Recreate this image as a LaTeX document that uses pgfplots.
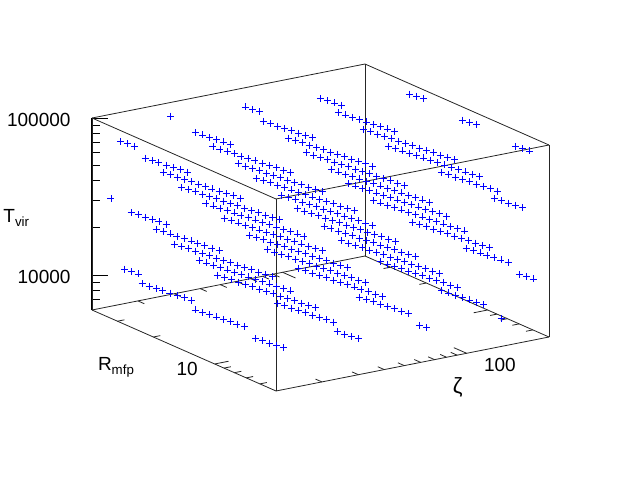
\documentclass[border=0pt]{standalone}
\usepackage{fontspec}
\setmainfont{Liberation Sans}
\usepackage{pgfplots}
\pgfplotsset{compat=1.18}
\begin{document}
\begin{tikzpicture}[x=1pt,y=1pt]
\path[use as bounding box] (0,0) rectangle (640,480);
\fontsize{19}{22}\selectfont
% the vertical axis, horizontal ticks
\begin{axis}[
  at={(92pt,170pt)}, anchor=south west, scale only axis,
  width=100pt, height=192pt,
  ymode=log, xmin=0, xmax=1, ymin=6000, ymax=100000,
  hide x axis, axis y line*=left, axis line style={-,line width=1pt},
  ytick={10000,100000}, yticklabels={10000,100000},
  minor ytick={7000,8000,9000,20000,30000,40000,50000,60000,70000,80000,90000},
  tick align=inside, major tick length=16pt, minor tick length=8pt,
  tick style={black,line width=0.8pt},
  yticklabel style={font=\fontsize{19}{22}\selectfont,xshift=-15pt,yshift=-1.5pt},
  ylabel={T\textsubscript{vir}},
  ylabel style={font=\fontsize{19}{22}\selectfont,at={(axis description cs:-0.755,0.48)},rotate=-90,anchor=center},
]
\end{axis}
\begin{axis}[
  at={(92pt,89pt)}, anchor=south west,
  xmode=log, ymode=log, zmode=log,
  x={(89.90pt,17.78pt)}, y={(-88.49pt,38.95pt)}, z={(0pt,68.24pt)},
  xmin=12, xmax=250, ymin=5, ymax=40, zmin=6000, zmax=100000,
  3d box=complete, clip=false,
  axis line style={line width=0.8pt,black!85},
  xtick={100}, xticklabels={100},
  ytick={10}, yticklabels={10},
  ztick=\empty,
  xtick pos=lower, ytick pos=lower,
  tick align=inside, major tick length=0pt,
  xticklabel style={font=\fontsize{19}{22}\selectfont,xshift=23pt,yshift=4pt},
  yticklabel style={font=\fontsize{19}{22}\selectfont,xshift=-15pt,yshift=10pt},
  xlabel={ζ}, ylabel={R\textsubscript{mfp}},
  xlabel style={font=\fontsize{22}{24}\selectfont,at={(axis description cs:0.80,0.012)},anchor=center},
  ylabel style={font=\fontsize{19}{22}\selectfont,at={(axis description cs:0.053,0.073)},anchor=center,rotate=0},
]
% floor ticks: each runs along the other floor direction, on both edges
\pgfplotsinvokeforeach{20,30,40,50,60,70,80,90}{
  \draw[black!85,line width=0.8pt] (axis cs:#1,40,6000) -- (axis cs:#1,37.2,6000);
  \draw[black!85,line width=0.8pt] (axis cs:#1,5,6000) -- (axis cs:#1,5.376,6000);
}
\draw[black!85,line width=0.8pt] (axis cs:100,40,6000) -- (axis cs:100,34.6,6000);
\draw[black!85,line width=0.8pt] (axis cs:100,5,6000) -- (axis cs:100,5.78,6000);
\pgfplotsinvokeforeach{6,7,8,9,20,30}{
  \draw[black!85,line width=0.8pt] (axis cs:250,#1,6000) -- (axis cs:231.5,#1,6000);
  \draw[black!85,line width=0.8pt] (axis cs:12,#1,6000) -- (axis cs:12.96,#1,6000);
}
\draw[black!85,line width=0.8pt] (axis cs:250,10,6000) -- (axis cs:214,10,6000);
\draw[black!85,line width=0.8pt] (axis cs:12,10,6000) -- (axis cs:14,10,6000);
\addplot3[only marks,mark=+,color=blue,mark size=3.5pt,mark options={line width=0.8pt}] coordinates {
(228.4,22.12,92300)(231.4,20.71,92300)(234.5,19.39,92300)
(215.6,11.45,93200)(218.4,10.72,93200)(221.3,10.04,93200)
(203.3,5.93,93900)(206,5.55,93900)(208.7,5.2,93900)
(110,28.78,90500)(111.5,26.95,90500)(112.9,25.23,90500)(114.4,23.63,90500)
(97.2,20.71,91300)(98.5,19.39,91300)(99.8,18.16,91300)(101.1,17,91300)(102.4,15.92,91300)(103.8,14.9,91300)(105.2,13.95,91300)(106.5,13.07,91300)(107.9,12.23,91300)
(87,13.95,92100)(88.2,13.07,92100)(89.3,12.23,92100)(90.5,11.45,92100)(91.7,10.72,92100)(92.9,10.04,92100)(94.1,9.4,92100)(95.4,8.8,92100)(96.6,8.24,92100)(97.9,7.72,92100)(99.2,7.23,92100)(100.5,6.77,92100)(101.8,6.33,92100)(103.2,5.93,92100)
(205.9,25.23,40960)(208.6,23.63,40960)(211.4,22.12,40960)(214.2,20.71,40960)(217,19.39,40960)(219.9,18.16,40960)(222.8,17,40960)(225.7,15.92,40960)(228.7,14.9,40960)(231.7,13.95,40960)(234.7,13.07,40960)(237.8,12.23,40960)(241,11.45,40960)(244.2,10.72,40960)
(207.4,13.95,39150)(210.1,13.07,39150)(212.9,12.23,39150)(215.7,11.45,39150)(218.6,10.72,39150)(221.4,10.04,39150)(224.4,9.4,39150)(227.3,8.8,39150)(230.3,8.24,39150)
(195.5,7.23,39500)(198.1,6.77,39500)(200.7,6.33,39500)(203.3,5.93,39500)(206,5.55,39500)
(51,30.74,93750)(51.7,28.78,93750)(52.4,26.95,93750)
(48.1,23.63,89400)(48.7,22.12,89400)(49.4,20.71,89400)(50,19.39,89400)(50.7,18.16,89400)(51.4,17,89400)(52,15.92,89400)(52.7,14.9,89400)
(43,15.92,90400)(43.6,14.9,90400)(44.1,13.95,90400)(44.7,13.07,90400)(45.3,12.23,90400)(45.9,11.45,90400)(46.5,10.72,90400)(47.1,10.04,90400)(47.8,9.4,90400)(48.4,8.8,90400)(49,8.24,90400)(49.7,7.72,90400)(50.3,7.23,90400)
(107.7,32.83,37980)(109.1,30.74,37980)(110.6,28.78,37980)(112,26.95,37980)(113.5,25.23,37980)(115,23.63,37980)(116.5,22.12,37980)(118.1,20.71,37980)(119.6,19.39,37980)(121.2,18.16,37980)(122.8,17,37980)(124.4,15.92,37980)(126.1,14.9,37980)(127.7,13.95,37980)(129.4,13.07,37980)
(96,22.12,38300)(97.3,20.71,38300)(98.6,19.39,38300)(99.9,18.16,38300)(101.2,17,38300)(102.5,15.92,38300)(103.9,14.9,38300)(105.2,13.95,38300)(106.6,13.07,38300)(108,12.23,38300)(109.5,11.45,38300)(110.9,10.72,38300)(112.4,10.04,38300)(113.8,9.4,38300)(115.3,8.8,38300)
(83.8,15.92,39000)(84.9,14.9,39000)(86,13.95,39000)(87.2,13.07,39000)(88.3,12.23,39000)(89.5,11.45,39000)(90.7,10.72,39000)(91.9,10.04,39000)(93.1,9.4,39000)(94.3,8.8,39000)(95.5,8.24,39000)(96.8,7.72,39000)(98.1,7.23,39000)(99.4,6.77,39000)(100.7,6.33,39000)
(85.8,12.23,35100)(86.9,11.45,35100)(88.1,10.72,35100)(89.3,10.04,35100)(90.5,9.4,35100)(91.6,8.8,35100)(92.8,8.24,35100)(94.1,7.72,35100)(95.3,7.23,35100)(96.5,6.77,35100)(97.8,6.33,35100)(99.1,5.93,35100)(100.4,5.55,35100)(101.7,5.2,35100)
(195.5,18.16,16500)(198.1,17,16500)(200.7,15.92,16500)(203.3,14.9,16500)(206,13.95,16500)(208.7,13.07,16500)(211.5,12.23,16500)(214.3,11.45,16500)(217.1,10.72,16500)(220,10.04,16500)(222.9,9.4,16500)(225.8,8.8,16500)
(184.9,9.4,16610)(187.3,8.8,16610)(189.8,8.24,16610)(192.3,7.72,16610)(194.9,7.23,16610)(197.4,6.77,16610)(200,6.33,16610)
(212.4,5.93,14230)(215.2,5.55,14230)(218,5.2,14230)
(25.3,35.07,91300)
(22.6,23.63,92400)(22.9,22.12,92400)(23.2,20.71,92400)(23.5,19.39,92400)(23.8,18.16,92400)(24.1,17,92400)
(19.85,17,93800)(20.11,15.92,93800)(20.38,14.9,93800)(20.65,13.95,93800)(20.92,13.07,93800)(21.19,12.23,93800)(21.47,11.45,93800)(21.76,10.72,93800)(22.05,10.04,93800)(22.34,9.4,93800)(22.63,8.8,93800)(22.93,8.24,93800)
(19,12.23,89200)(19.25,11.45,89200)(19.5,10.72,89200)(19.76,10.04,89200)(20.02,9.4,89200)(20.29,8.8,89200)(20.55,8.24,89200)(20.83,7.72,89200)(21.1,7.23,89200)(21.38,6.77,89200)(21.66,6.33,89200)(21.95,5.93,89200)(22.24,5.55,89200)
(47.4,25.23,37620)(48,23.63,37620)(48.7,22.12,37620)(49.3,20.71,37620)(50,19.39,37620)(50.6,18.16,37620)(51.3,17,37620)(52,15.92,37620)(52.6,14.9,37620)(53.3,13.95,37620)(54,13.07,37620)(54.8,12.23,37620)(55.5,11.45,37620)(56.2,10.72,37620)(57,10.04,37620)
(42.4,17,37900)(43,15.92,37900)(43.5,14.9,37900)(44.1,13.95,37900)(44.7,13.07,37900)(45.3,12.23,37900)(45.9,11.45,37900)(46.5,10.72,37900)(47.1,10.04,37900)(47.7,9.4,37900)(48.3,8.8,37900)(49,8.24,37900)(49.6,7.72,37900)(50.3,7.23,37900)
(39.1,13.07,36800)(39.6,12.23,36800)(40.1,11.45,36800)(40.7,10.72,36800)(41.2,10.04,36800)(41.7,9.4,36800)(42.3,8.8,36800)(42.9,8.24,36800)(43.4,7.72,36800)(44,7.23,36800)(44.6,6.77,36800)(45.2,6.33,36800)(45.8,5.93,36800)(46.4,5.55,36800)(47,5.2,36800)
(94.4,23.63,16110)(95.6,22.12,16110)(96.9,20.71,16110)(98.2,19.39,16110)(99.5,18.16,16110)(100.8,17,16110)(102.1,15.92,16110)(103.5,14.9,16110)(104.8,13.95,16110)(106.2,13.07,16110)(107.6,12.23,16110)(109,11.45,16110)(110.5,10.72,16110)(111.9,10.04,16110)
(83.1,17,16300)(84.2,15.92,16300)(85.3,14.9,16300)(86.4,13.95,16300)(87.6,13.07,16300)(88.7,12.23,16300)(89.9,11.45,16300)(91.1,10.72,16300)(92.3,10.04,16300)(93.5,9.4,16300)(94.7,8.8,16300)(96,8.24,16300)(97.3,7.72,16300)(98.5,7.23,16300)(99.8,6.77,16300)
(81.2,10.72,15650)(82.3,10.04,15650)(83.4,9.4,15650)(84.5,8.8,15650)(85.6,8.24,15650)(86.7,7.72,15650)(87.8,7.23,15650)(89,6.77,15650)(90.2,6.33,15650)(91.4,5.93,15650)(92.6,5.55,15650)(93.8,5.2,15650)
(207.4,13.95,6920)(210.1,13.07,6920)(212.9,12.23,6920)(215.7,11.45,6920)(218.6,10.72,6920)(221.4,10.04,6920)(224.4,9.4,6920)
(198,6.77,7000)
(12.7,30.74,81400)(12.9,28.78,81400)(13,26.95,81400)
(12.9,23.63,73600)(13.1,22.12,73600)(13.2,20.71,73600)(13.4,19.39,73600)(13.6,18.16,73600)(13.8,17,73600)(14,15.92,73600)
(13,19.39,66600)(13.2,18.16,66600)(13.4,17,66600)(13.5,15.92,66600)(13.7,14.9,66600)(13.9,13.95,66600)(14.1,13.07,66600)(14.2,12.23,66600)(14.4,11.45,66600)(14.6,10.72,66600)(14.8,10.04,66600)(15,9.4,66600)
(22.06,26.95,38800)(22.35,25.23,38800)(22.65,23.63,38800)(22.94,22.12,38800)(23.25,20.71,38800)(23.55,19.39,38800)(23.86,18.16,38800)(24.18,17,38800)(24.5,15.92,38800)(24.82,14.9,38800)(25.15,13.95,38800)(25.48,13.07,38800)(25.82,12.23,38800)(26.16,11.45,38800)(26.51,10.72,38800)
(19.6,18.16,39400)(19.86,17,39400)(20.12,15.92,39400)(20.39,14.9,39400)(20.66,13.95,39400)(20.93,13.07,39400)(21.2,12.23,39400)(21.48,11.45,39400)(21.77,10.72,39400)(22.05,10.04,39400)(22.35,9.4,39400)(22.64,8.8,39400)(22.94,8.24,39400)(23.24,7.72,39400)(23.55,7.23,39400)
(17.36,13.07,39600)(17.59,12.23,39600)(17.82,11.45,39600)(18.06,10.72,39600)(18.29,10.04,39600)(18.54,9.4,39600)(18.78,8.8,39600)(19.03,8.24,39600)(19.28,7.72,39600)(19.53,7.23,39600)(19.79,6.77,39600)(20.05,6.33,39600)(20.32,5.93,39600)(20.59,5.55,39600)(20.86,5.2,39600)
(43.9,25.23,16660)(44.5,23.63,16660)(45.1,22.12,16660)(45.7,20.71,16660)(46.3,19.39,16660)(46.9,18.16,16660)(47.5,17,16660)(48.1,15.92,16660)(48.8,14.9,16660)(49.4,13.95,16660)(50.1,13.07,16660)(50.7,12.23,16660)(51.4,11.45,16660)(52.1,10.72,16660)(52.7,10.04,16660)
(38.8,18.16,16780)(39.3,17,16780)(39.8,15.92,16780)(40.4,14.9,16780)(40.9,13.95,16780)(41.4,13.07,16780)(42,12.23,16780)(42.5,11.45,16780)(43.1,10.72,16780)(43.7,10.04,16780)(44.2,9.4,16780)(44.8,8.8,16780)(45.4,8.24,16780)(46,7.72,16780)(46.6,7.23,16780)
(37,12.23,16200)(37.5,11.45,16200)(38,10.72,16200)(38.5,10.04,16200)(39,9.4,16200)(39.5,8.8,16200)(40,8.24,16200)(40.6,7.72,16200)(41.1,7.23,16200)(41.6,6.77,16200)(42.2,6.33,16200)(42.7,5.93,16200)(43.3,5.55,16200)
(101,17,6790)(102.3,15.92,6790)(103.7,14.9,6790)(105,13.95,6790)(106.4,13.07,6790)(107.8,12.23,6790)(109.3,11.45,6790)(110.7,10.72,6790)
(96.6,8.24,6840)(97.9,7.72,6840)
(12.2,32.83,34200)
(13.4,28.78,29350)(13.6,26.95,29350)(13.8,25.23,29350)(14,23.63,29350)(14.1,22.12,29350)(14.3,20.71,29350)
(12.8,20.71,28000)(13,19.39,28000)(13.2,18.16,28000)(13.3,17,28000)(13.5,15.92,28000)(13.7,14.9,28000)(13.8,13.95,28000)(14,13.07,28000)(14.2,12.23,28000)(14.4,11.45,28000)
(21.7,28.78,16300)(22,26.95,16300)(22.3,25.23,16300)(22.6,23.63,16300)(22.9,22.12,16300)(23.2,20.71,16300)(23.5,19.39,16300)(23.8,18.16,16300)(24.1,17,16300)(24.4,15.92,16300)(24.7,14.9,16300)(25.1,13.95,16300)(25.4,13.07,16300)(25.7,12.23,16300)(26.1,11.45,16300)
(19.4,19.39,16500)(19.66,18.16,16500)(19.92,17,16500)(20.18,15.92,16500)(20.44,14.9,16500)(20.71,13.95,16500)(20.99,13.07,16500)(21.26,12.23,16500)(21.55,11.45,16500)(21.83,10.72,16500)(22.12,10.04,16500)(22.41,9.4,16500)(22.7,8.8,16500)(23,8.24,16500)
(17.15,13.95,16610)(17.38,13.07,16610)(17.6,12.23,16610)(17.84,11.45,16610)(18.07,10.72,16610)(18.31,10.04,16610)(18.55,9.4,16610)(18.8,8.8,16610)(19.05,8.24,16610)(19.3,7.72,16610)(19.55,7.23,16610)(19.81,6.77,16610)(20.07,6.33,16610)(20.34,5.93,16610)(20.61,5.55,16610)
(46.2,19.39,7020)(46.8,18.16,7020)(47.4,17,7020)(48.1,15.92,7020)(48.7,14.9,7020)(49.3,13.95,7020)(50,13.07,7020)(50.6,12.23,7020)(51.3,11.45,7020)
(47.1,10.04,6720)(47.7,9.4,6720)(48.4,8.8,6720)(49,8.24,6720)
(13.3,30.74,12340)(13.4,28.78,12340)(13.6,26.95,12340)
(13.3,25.23,11160)(13.5,23.63,11160)(13.7,22.12,11160)(13.8,20.71,11160)(14,19.39,11160)(14.2,18.16,11160)(14.4,17,11160)(14.6,15.92,11160)
(22.5,23.63,6880)(22.8,22.12,6880)(23.1,20.71,6880)(23.4,19.39,6880)(23.7,18.16,6880)(24,17,6880)(24.3,15.92,6880)(24.7,14.9,6880)
(21.6,11.45,6920)(21.9,10.72,6920)(22.2,10.04,6920)(22.5,9.4,6920)(22.8,8.8,6920)
};
\end{axis}
\end{tikzpicture}
\end{document}
